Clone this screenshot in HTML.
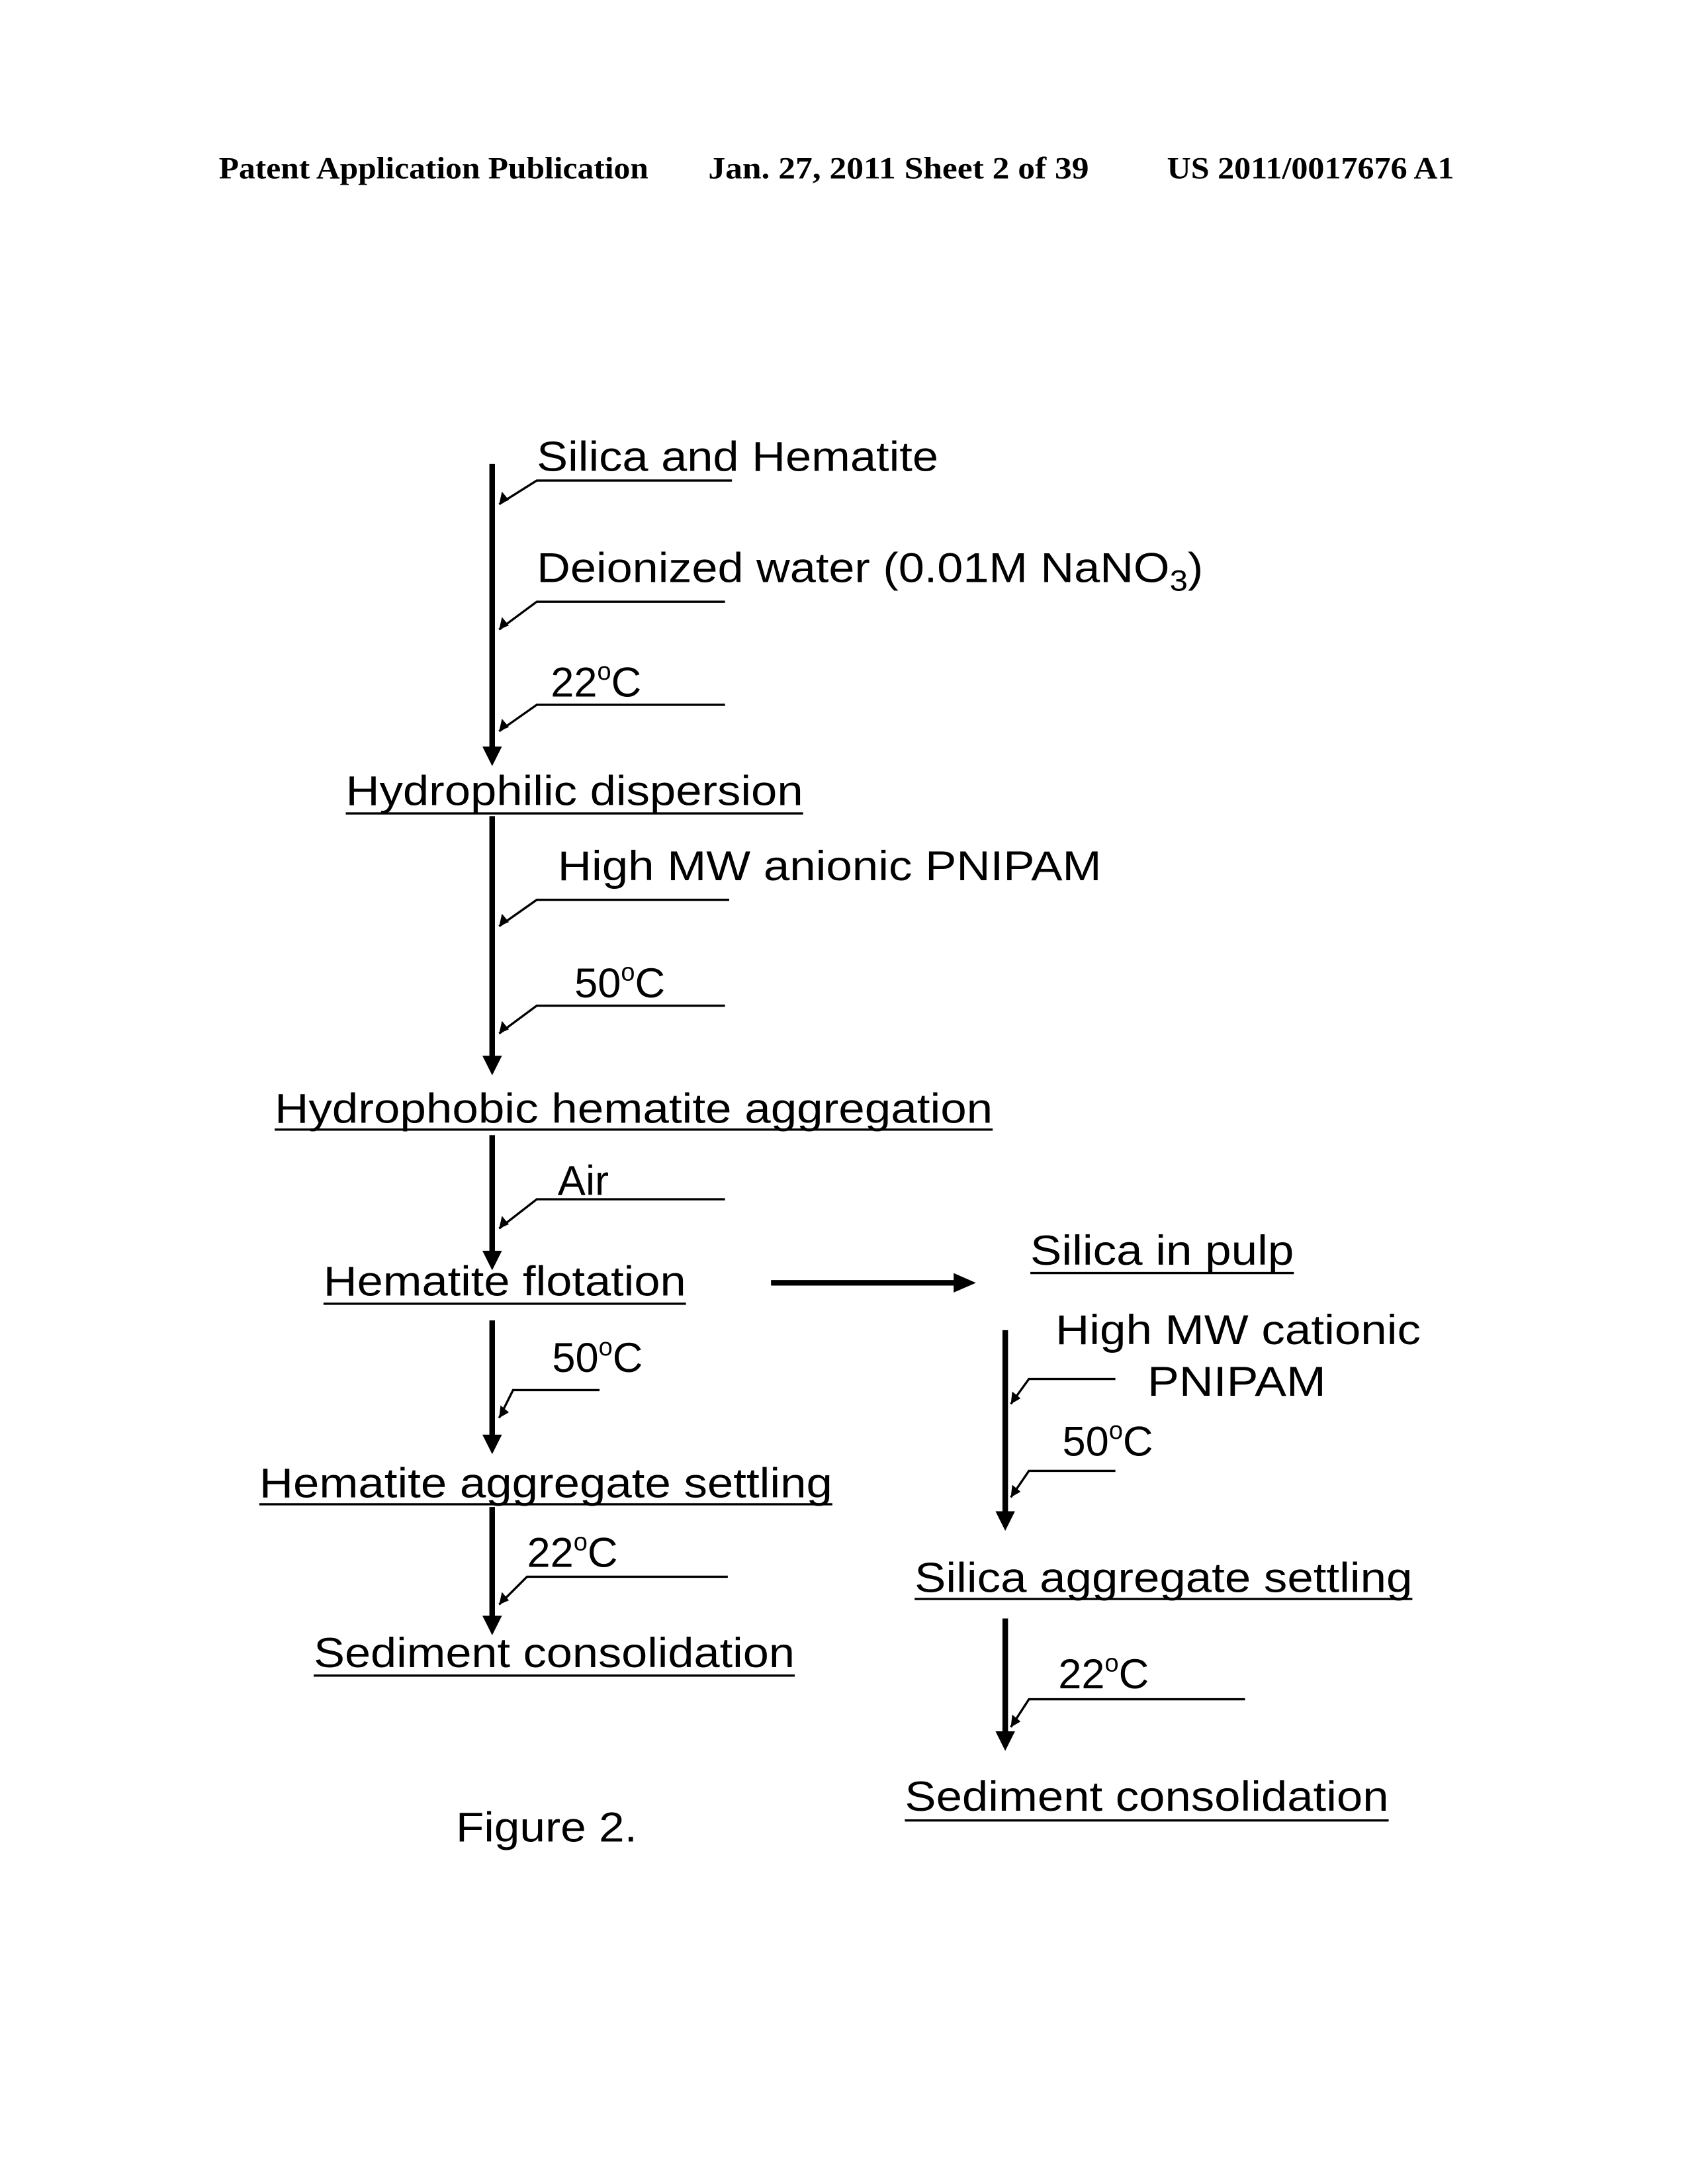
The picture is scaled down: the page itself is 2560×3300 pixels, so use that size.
<!DOCTYPE html>
<html><head><meta charset="utf-8"><style>
html,body{margin:0;padding:0;background:#fff;}
svg{display:block;}
text{font-family:"Liberation Sans",Arial,sans-serif;fill:#000;}
.h{font-family:"Liberation Serif",serif;font-weight:bold;font-size:22px;}
.t{font-size:30px;}
</style></head><body>
<svg width="2560" height="3300" viewBox="0 0 1215 1568" preserveAspectRatio="none" xmlns="http://www.w3.org/2000/svg">
<text class="h" x="157" y="128" textLength="308" lengthAdjust="spacingAndGlyphs">Patent Application Publication</text>
<text class="h" x="508" y="128" textLength="273" lengthAdjust="spacingAndGlyphs">Jan. 27, 2011  Sheet 2 of 39</text>
<text class="h" x="837" y="128" textLength="206" lengthAdjust="spacingAndGlyphs">US 2011/0017676 A1</text>

<g stroke="#000" fill="none" stroke-width="1.6">
<path d="M525,345 H385 L358,362"/>
<path d="M520,432 H385 L358,452"/>
<path d="M520,506 H385 L358,525"/>
<path d="M523,646 H385 L358,665"/>
<path d="M520,722 H385 L358,742"/>
<path d="M520,861 H385 L358,882"/>
<path d="M430,998 H368 L358,1018"/>
<path d="M522,1132 H378 L358,1152"/>
<path d="M800,990 H738 L725,1008"/>
<path d="M800,1056 H738 L725,1075"/>
<path d="M893,1220 H738 L725,1240"/>
<path d="M248,584 H576 M197,811 H712 M232,936 H492 M739,914 H928 M186,1080 H597 M225,1203 H570 M656,1148 H1013 M649,1307 H996"/>
</g>
<g stroke="#000" stroke-width="4" fill="none">
<path d="M353,333 V540"/>
<path d="M353,586 V762"/>
<path d="M353,815 V902"/>
<path d="M353,948 V1034"/>
<path d="M353,1082 V1164"/>
<path d="M721,955 V1089"/>
<path d="M721,1162 V1247"/>
<path d="M553,921 H686"/>
</g>
<g fill="#000">
<path d="M346,536 L360,536 L353,550 z"/>
<path d="M346,758 L360,758 L353,772 z"/>
<path d="M346,898 L360,898 L353,912 z"/>
<path d="M346,1030 L360,1030 L353,1044 z"/>
<path d="M346,1160 L360,1160 L353,1174 z"/>
<path d="M714,1085 L728,1085 L721,1099 z"/>
<path d="M714,1243 L728,1243 L721,1257 z"/>
<path d="M684,914 L700,921 L684,928 z"/>
<path d="M358,362 l2,-9 l5,6 z M358,452 l2,-9 l5,6 z M358,525 l2,-9 l5,6 z M358,665 l2,-9 l5,6 z M358,742 l2,-9 l5,6 z M358,882 l2,-9 l5,6 z M358,1018 l1,-9 l6,5 z M358,1152 l2,-9 l5,6 z M725,1008 l1,-9 l6,5 z M725,1075 l1,-9 l6,5 z M725,1240 l1,-9 l6,5 z"/>
</g>

<text class="t" x="385" y="338" textLength="288" lengthAdjust="spacingAndGlyphs">Silica and Hematite</text>
<text class="t" x="385" y="418" textLength="478" lengthAdjust="spacingAndGlyphs">Deionized water (0.01M NaNO<tspan font-size="21" dy="6">3</tspan><tspan dy="-6">)</tspan></text>
<text class="t" x="395" y="500">22<tspan font-size="18" dy="-12">o</tspan><tspan dy="12">C</tspan></text>
<text class="t" x="248" y="578" textLength="328" lengthAdjust="spacingAndGlyphs">Hydrophilic dispersion</text>
<text class="t" x="400" y="632" textLength="390" lengthAdjust="spacingAndGlyphs">High MW anionic PNIPAM</text>
<text class="t" x="412" y="716">50<tspan font-size="18" dy="-12">o</tspan><tspan dy="12">C</tspan></text>
<text class="t" x="197" y="806" textLength="515" lengthAdjust="spacingAndGlyphs">Hydrophobic hematite aggregation</text>
<text class="t" x="400" y="858">Air</text>
<text class="t" x="232" y="930" textLength="260" lengthAdjust="spacingAndGlyphs">Hematite flotation</text>
<text class="t" x="739" y="908" textLength="189" lengthAdjust="spacingAndGlyphs">Silica in pulp</text>
<text class="t" x="396" y="985">50<tspan font-size="18" dy="-12">o</tspan><tspan dy="12">C</tspan></text>
<text class="t" x="186" y="1075" textLength="411" lengthAdjust="spacingAndGlyphs">Hematite aggregate settling</text>
<text class="t" x="378" y="1125">22<tspan font-size="18" dy="-12">o</tspan><tspan dy="12">C</tspan></text>
<text class="t" x="225" y="1197" textLength="345" lengthAdjust="spacingAndGlyphs">Sediment consolidation</text>
<text class="t" x="757" y="965" textLength="262" lengthAdjust="spacingAndGlyphs">High MW cationic</text>
<text class="t" x="823" y="1002" textLength="128" lengthAdjust="spacingAndGlyphs">PNIPAM</text>
<text class="t" x="762" y="1045">50<tspan font-size="18" dy="-12">o</tspan><tspan dy="12">C</tspan></text>
<text class="t" x="656" y="1143" textLength="357" lengthAdjust="spacingAndGlyphs">Silica aggregate settling</text>
<text class="t" x="759" y="1212">22<tspan font-size="18" dy="-12">o</tspan><tspan dy="12">C</tspan></text>
<text class="t" x="649" y="1300" textLength="347" lengthAdjust="spacingAndGlyphs">Sediment consolidation</text>
<text class="t" x="327" y="1322" textLength="130" lengthAdjust="spacingAndGlyphs">Figure 2.</text>
</svg>
</body></html>
